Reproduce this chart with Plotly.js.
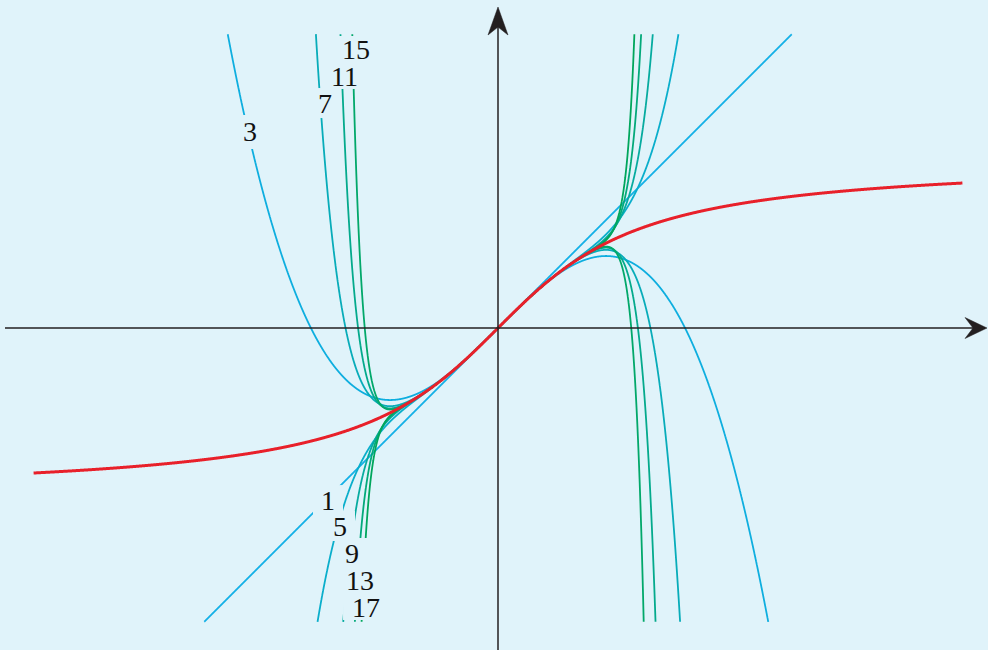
<!DOCTYPE html>
<html>
<head>
<meta charset="utf-8">
<script src="https://cdn.plot.ly/plotly-3.0.1.min.js"></script>
<style>
  html, body { margin: 0; padding: 0; background: #e0f3fa; }
  #chart { width: 988px; height: 650px; }
</style>
</head>
<body>
<div id="chart"></div>
<script>
// arctan(x) and its Maclaurin polynomials x - x^3/3 + x^5/5 - ...
const degrees = [1, 3, 5, 7, 9, 11, 13, 15, 17];
const degreeLabels = ['1', '3', '5', '7', '9', '11', '13', '15', '17'];
const arctanDomain = [-4.3, 4.3];
const polyDomain = [-3, 3];

// styling / placement (kept apart from the values above)
const BG = '#e0f3fa';
const degreeColors = ['#14b0e6', '#0eaedf', '#0aaecb', '#08acb9', '#06ab9f', '#04aa8c', '#03a97a', '#02a86a', '#00a65c'];
const labelPos = {
  '1':  [-1.574, -1.593], '3':  [-2.296, 1.824], '5':  [-1.463, -1.833],
  '7':  [-1.602, 2.083],  '9':  [-1.352, -2.083], '11': [-1.417, 2.333],
  '13': [-1.278, -2.333], '15': [-1.315, 2.583], '17': [-1.222, -2.583]
};
// backing box (px): [left, right, top, bottom] offsets from the label centre
const labelBox = {
  '1':  [15, 15, 15, 15], '3':  [15, 15, 16, 18], '5':  [15, 15, 15, 15],
  '7':  [15, 15, 15, 15], '9':  [15, 16, 15, 15], '11': [20, 20, 14, 13],
  '13': [20, 20, 14, 14], '15': [20, 20, 13, 13], '17': [23, 23, 14, 13]
};
const Y_CLIP = 2.72;
const X_RANGE = [-4.611, 4.537];
const Y_RANGE = [-2.981, 3.037];
const PX = 108; // pixels per unit on both axes

function taylor(deg, x) {
  let s = 0;
  for (let k = 0; 2 * k + 1 <= deg; k++) {
    const n = 2 * k + 1;
    s += (k % 2 === 0 ? 1 : -1) * Math.pow(x, n) / n;
  }
  return s;
}

// sample f over [a,b], cutting the curve exactly where |y| reaches the clip band
function clippedCurve(f, a, b, steps, clip) {
  const xs = [], ys = [];
  const inside = y => Math.abs(y) <= clip;
  const edge = (x0, x1) => {
    let lo = x0, hi = x1;
    const inLo = inside(f(lo));
    for (let i = 0; i < 50; i++) {
      const m = (lo + hi) / 2;
      if (inside(f(m)) === inLo) lo = m; else hi = m;
    }
    const xm = (lo + hi) / 2;
    return [xm, Math.sign(f(xm)) * clip];
  };
  let px = a, py = f(a);
  if (inside(py)) { xs.push(px); ys.push(py); }
  for (let i = 1; i <= steps; i++) {
    const x = a + (b - a) * i / steps, y = f(x);
    const pin = inside(py), cin = inside(y);
    if (pin && !cin) {
      const e = edge(px, x); xs.push(e[0]); ys.push(e[1]); xs.push(null); ys.push(null);
    } else if (!pin && cin) {
      const e = edge(px, x); xs.push(e[0]); ys.push(e[1]);
    }
    if (cin) { xs.push(x); ys.push(y); }
    px = x; py = y;
  }
  return { x: xs, y: ys };
}

const traces = [];
degrees.forEach((d, i) => {
  const c = clippedCurve(x => taylor(d, x), polyDomain[0], polyDomain[1], 4000, Y_CLIP);
  traces.push({
    type: 'scatter', mode: 'lines', x: c.x, y: c.y,
    line: { color: degreeColors[i], width: 1.8, shape: 'spline', smoothing: 0.3 }, hoverinfo: 'skip', connectgaps: false
  });
});
const red = clippedCurve(Math.atan, arctanDomain[0], arctanDomain[1], 1500, 10);
traces.push({
  type: 'scatter', mode: 'lines', x: red.x, y: red.y,
  line: { color: '#e8202a', width: 3, shape: 'spline', smoothing: 0.5 }, hoverinfo: 'skip'
});

// axes drawn as lines with notched arrowheads
const u = 1 / PX;
const xTip = X_RANGE[1] - 1 * u, xBack = xTip - 22 * u, xNotch = xTip - 14 * u;
const yTip = Y_RANGE[1] - 7 * u, yBack = yTip - 28 * u, yNotch = yTip - 20 * u;
const axisColor = '#231f20';
const shapes = [
  { type: 'line', x0: X_RANGE[0] + 5 * u, x1: xNotch, y0: 0, y1: 0, line: { color: axisColor, width: 1.5 } },
  { type: 'line', x0: 0, x1: 0, y0: Y_RANGE[0], y1: yNotch, line: { color: axisColor, width: 1.5 } },
  { type: 'path', path: `M ${xTip} 0 L ${xBack} ${10.5 * u} L ${xNotch} 0 L ${xBack} ${-10.5 * u} Z`,
    fillcolor: axisColor, line: { color: axisColor, width: 0.5 } },
  { type: 'path', path: `M 0 ${yTip} L ${-10 * u} ${yBack} L 0 ${yNotch} L ${10 * u} ${yBack} Z`,
    fillcolor: axisColor, line: { color: axisColor, width: 0.5 } }
];

// background patches behind the degree labels, masking the curves there
degreeLabels.forEach(t => {
  const [cx, cy] = labelPos[t];
  const [l, r, tp, b] = labelBox[t];
  shapes.push({
    type: 'rect', layer: 'above', xref: 'x', yref: 'y',
    x0: cx - l * u, x1: cx + r * u, y0: cy - b * u, y1: cy + tp * u,
    fillcolor: BG, line: { width: 0 }
  });
});

// label text boxes kept to the digit height so stacked labels do not collide
const annotations = degreeLabels.map(t => ({
  text: t, x: labelPos[t][0], y: labelPos[t][1], xref: 'x', yref: 'y',
  showarrow: false, borderpad: 0, height: 26, valign: 'middle',
  font: { family: 'Liberation Serif', size: 28, color: '#111' }
}));

const layout = {
  width: 988, height: 650,
  margin: { l: 0, r: 0, t: 0, b: 0 },
  paper_bgcolor: BG, plot_bgcolor: BG,
  showlegend: false,
  xaxis: { range: X_RANGE, visible: false, fixedrange: true },
  yaxis: { range: Y_RANGE, visible: false, fixedrange: true },
  shapes: shapes,
  annotations: annotations
};

Plotly.newPlot('chart', traces, layout, { staticPlot: true, displayModeBar: false });
</script>
</body>
</html>
